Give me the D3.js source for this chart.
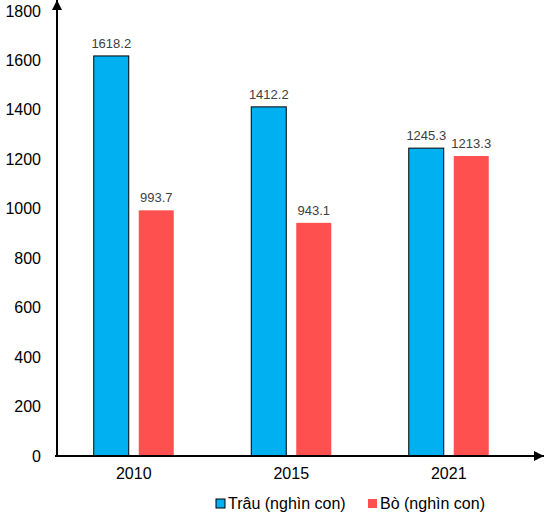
<!DOCTYPE html>
<html>
<head>
<meta charset="utf-8">
<script src="https://cdn.jsdelivr.net/npm/d3@7"></script>
<style>
  body { margin: 0; background: #fff; }
  svg { font-family: Arial, "Liberation Sans", sans-serif; }
</style>
</head>
<body>
<svg id="chart" width="544" height="516"></svg>
<script>
// *** Data ***
var years = ["2010", "2015", "2021"];
var seriesNames = ["Trâu (nghìn con)", "Bò (nghìn con)"];
var trau = [1618.2, 1412.2, 1245.3];
var bo = [993.7, 943.1, 1213.3];
var yTicks = [0, 200, 400, 600, 800, 1000, 1200, 1400, 1600, 1800];
var colors = ["#00B0F0", "#FF5050"];

var seriesValues = [trau, bo];

// *** Chart ***
var svg = d3.select("#chart");

var x0 = d3.scaleBand().domain(years).range([55, 527.5]);
var groupWidth = 80;
var x1 = d3.scaleBand().domain([0, 1]).range([0, groupWidth]).paddingInner(10 / 45);
var y = d3.scaleLinear().domain([0, 1800]).range([456, 11]);

// y tick labels (no tick marks)
svg.append("g")
    .selectAll("text")
    .data(yTicks)
    .enter().append("text")
    .attr("x", 41)
    .attr("y", d => y(d))
    .attr("dy", "0.35em")
    .attr("text-anchor", "end")
    .attr("font-size", 16)
    .attr("fill", "#000")
    .text(d => d);

// bars
var groups = svg.append("g")
    .selectAll("g")
    .data(years)
    .enter().append("g")
    .attr("transform", d => "translate(" + (x0(d) + (x0.bandwidth() - groupWidth) / 2) + ",0)");

groups.selectAll("rect")
    .data((d, i) => seriesValues.map((s, k) => ({k: k, v: s[i]})))
    .enter().append("rect")
    .attr("x", d => x1(d.k))
    .attr("y", d => y(d.v))
    .attr("width", x1.bandwidth())
    .attr("height", d => y(0) - y(d.v))
    .attr("fill", d => colors[d.k])
    .attr("stroke", d => d.k === 0 ? "#000" : "none")
    .attr("stroke-width", 1);

groups.selectAll("text.val")
    .data((d, i) => seriesValues.map((s, k) => ({k: k, v: s[i]})))
    .enter().append("text")
    .attr("class", "val")
    .attr("x", d => x1(d.k) + x1.bandwidth() / 2)
    .attr("y", d => y(d.v) - 8)
    .attr("text-anchor", "middle")
    .attr("font-size", 13)
    .attr("fill", "#404040")
    .text(d => d.v.toFixed(1));

// x labels
svg.append("g")
    .selectAll("text")
    .data(years)
    .enter().append("text")
    .attr("x", d => x0(d) + x0.bandwidth() / 2)
    .attr("y", 479)
    .attr("text-anchor", "middle")
    .attr("font-size", 16)
    .attr("fill", "#000")
    .text(d => d);

// axes with arrows
var defs = svg.append("defs");
defs.append("marker")
    .attr("id", "arrow")
    .attr("viewBox", "0 0 10 10")
    .attr("refX", 10).attr("refY", 5)
    .attr("markerWidth", 5).attr("markerHeight", 5)
    .attr("markerUnits", "strokeWidth")
    .attr("orient", "auto")
    .append("path")
    .attr("d", "M0,0 L10,5 L0,10 Z")
    .attr("fill", "#000");

svg.append("line")
    .attr("x1", 57).attr("y1", y(0))
    .attr("x2", 57).attr("y2", 0)
    .attr("stroke", "#000").attr("stroke-width", 2)
    .attr("marker-end", "url(#arrow)");

svg.append("line")
    .attr("x1", 55).attr("y1", y(0))
    .attr("x2", 544).attr("y2", y(0))
    .attr("stroke", "#000").attr("stroke-width", 2)
    .attr("marker-end", "url(#arrow)");

// legend
var legendX = [216, 368];
var legend = svg.append("g")
    .selectAll("g")
    .data(seriesNames)
    .enter().append("g")
    .attr("transform", (d, i) => "translate(" + legendX[i] + ",499)");

legend.append("rect")
    .attr("width", 9).attr("height", 9)
    .attr("fill", (d, i) => colors[i])
    .attr("stroke", (d, i) => i === 0 ? "#000" : "none")
    .attr("stroke-width", 1);

legend.append("text")
    .attr("x", 12)
    .attr("y", 4.5)
    .attr("dy", "0.35em")
    .attr("font-size", 16)
    .attr("fill", "#000")
    .text(d => d);
</script>
</body>
</html>
